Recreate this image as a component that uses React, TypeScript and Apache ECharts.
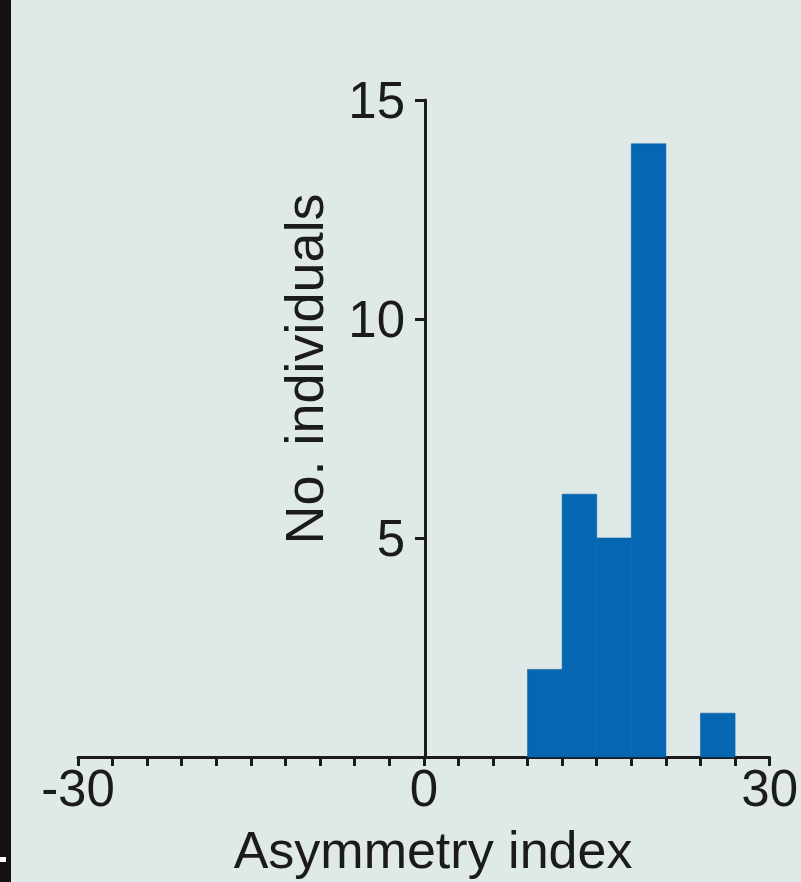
import React, { useEffect, useRef } from "react";
import * as echarts from "echarts";

const binStarts = [9, 12, 15, 18, 21, 24];
const binEnds = [12, 15, 18, 21, 24, 27];
const counts = [2, 6, 5, 14, 0, 1];
const xTickLabels = [-30, 0, 30];
const yTickLabels = [5, 10, 15];
const xName = "Asymmetry index";
const yName = "No. individuals";

const FONT = "'Liberation Sans', Arial, sans-serif";
const TXT = "#1b1b1b";
const BAR = "#0567b2";

export default function App() {
  const ref = useRef<HTMLDivElement>(null);
  useEffect(() => {
    document.body.style.margin = "0";
    const chart = echarts.init(ref.current!, null, { renderer: "svg" });
    const data = binStarts.map((s, i) => [s, binEnds[i], counts[i]]);
    chart.setOption({
      animation: false,
      backgroundColor: "#dfe9e8",
      grid: { left: 78, right: 29, top: 100, bottom: 125 },
      xAxis: {
        type: "value",
        min: -30,
        max: 30,
        interval: 3,
        splitLine: { show: false },
        axisLine: { lineStyle: { color: TXT, width: 3 } },
        axisTick: { length: 9, lineStyle: { color: TXT, width: 3 } },
        axisLabel: {
          margin: 6,
          fontFamily: FONT,
          fontSize: 51,
          color: TXT,
          formatter: (v: number) => (xTickLabels.includes(v) ? String(v) : ""),
        },
      },
      yAxis: {
        type: "value",
        min: 0,
        max: 15,
        interval: 5,
        offset: -347,
        splitLine: { show: false },
        axisLine: { onZero: false, lineStyle: { color: TXT, width: 3 } },
        axisTick: { length: 10, lineStyle: { color: TXT, width: 3 } },
        axisLabel: {
          margin: 20,
          fontFamily: FONT,
          fontSize: 51,
          color: TXT,
          showMinLabel: false,
          formatter: (v: number) => (yTickLabels.includes(v) ? String(v) : ""),
        },
      },
      series: [
        {
          type: "custom",
          data,
          renderItem: (params: any, api: any) => {
            const x0 = api.value(0);
            const x1 = api.value(1);
            const c = api.value(2);
            if (!c) return null;
            const p0 = api.coord([x0, c]);
            const p1 = api.coord([x1, 0]);
            return {
              type: "rect",
              shape: { x: p0[0], y: p0[1], width: p1[0] - p0[0], height: p1[1] - p0[1] },
              style: { fill: BAR, stroke: "#0a5fa6", lineWidth: 0.6 },
            };
          },
          z: 1,
        },
      ],
      graphic: [
        { type: "rect", left: 0, top: 0, shape: { width: 11, height: 882 }, style: { fill: "#141010" } },
        { type: "rect", left: 0, top: 857, shape: { width: 6, height: 5 }, style: { fill: "#ffffff" } },
        {
          type: "text",
          x: 433,
          y: 850,
          style: { text: xName, font: `52px ${FONT}`, fill: TXT, align: "center", verticalAlign: "middle" },
        },
        {
          type: "text",
          x: 304,
          y: 369,
          rotation: Math.PI / 2,
          style: { text: yName, font: `54px ${FONT}`, fill: TXT, align: "center", verticalAlign: "middle" },
        },
      ],
    });
    return () => chart.dispose();
  }, []);
  return <div ref={ref} style={{ position: "fixed", left: 0, top: 0, width: 801, height: 882 }} />;
}
